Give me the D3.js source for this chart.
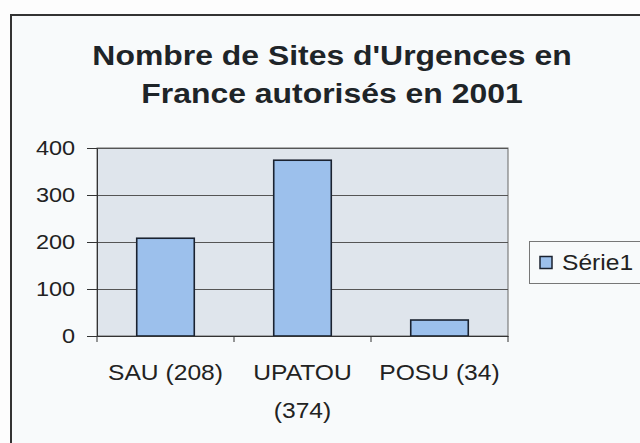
<!DOCTYPE html>
<html><head><meta charset="utf-8">
<script src="https://cdn.jsdelivr.net/npm/d3@7"></script>
<style>html,body{margin:0;padding:0;background:#fdfdfd;}svg{display:block;}</style>
</head><body>
<script>
const categories = ["SAU (208)", "UPATOU (374)", "POSU (34)"];
const labelLines = [["SAU (208)"], ["UPATOU", "(374)"], ["POSU (34)"]];
const values = [208, 374, 34];
const yTicks = [0, 100, 200, 300, 400];
const titleLines = ["Nombre de Sites d'Urgences en", "France autorisés en 2001"];
const seriesName = "Série1";

const W = 640, H = 443;
const SX = 1.12; // horizontal stretch of the scanned text
const svg = d3.select("body").append("svg").attr("width", W).attr("height", H);
const font = "'Liberation Sans', Arial, sans-serif";

// outer frame
svg.append("rect").attr("x", 11).attr("y", 15).attr("width", 700).attr("height", 700)
  .attr("fill", "#f8fafb").attr("stroke", "#333").attr("stroke-width", 2);

const plot = {left: 97, right: 508, top: 148, bottom: 336};
const x = d3.scaleBand().domain(categories).range([plot.left, plot.right]).paddingInner(0.58).paddingOuter(0.29);
const y = d3.scaleLinear().domain([0, 400]).range([plot.bottom, plot.top]);

// plot area
svg.append("rect").attr("x", plot.left).attr("y", plot.top)
  .attr("width", plot.right - plot.left).attr("height", plot.bottom - plot.top)
  .attr("fill", "#dfe5ec").attr("stroke", "#666").attr("stroke-width", 1);

// gridlines
svg.append("g").selectAll("line").data(yTicks.filter(d => d > 0)).join("line")
  .attr("x1", plot.left).attr("x2", plot.right)
  .attr("y1", d => Math.round(y(d)) + 0.5).attr("y2", d => Math.round(y(d)) + 0.5)
  .attr("stroke", "#555").attr("stroke-width", 1);

// bars
svg.append("g").selectAll("rect").data(values).join("rect")
  .attr("x", (d, i) => x(categories[i]))
  .attr("y", d => y(d))
  .attr("width", x.bandwidth())
  .attr("height", d => y(0) - y(d))
  .attr("fill", "#9cc0ec").attr("stroke", "#1a2230").attr("stroke-width", 1.6);

// y axis
const yAxis = d3.axisLeft(y).tickValues(yTicks).tickSize(10).tickPadding(9.5);
const gy = svg.append("g").attr("transform", `translate(${plot.left},0)`).call(yAxis);
gy.select(".domain").attr("stroke", "#333");
gy.selectAll(".tick line").attr("stroke", "#333");
gy.selectAll("text").attr("font-family", font).attr("font-size", 21).attr("fill", "#222")
  .attr("transform", `scale(${SX},1)`);

// x axis
const xAxis = d3.axisBottom(x).tickSize(0).tickFormat("");
const gx = svg.append("g").attr("transform", `translate(0,${plot.bottom})`).call(xAxis);
gx.select(".domain").attr("stroke", "#333");
const bounds = d3.range(categories.length + 1).map(i => plot.left + i * (plot.right - plot.left) / categories.length);
gx.selectAll(".bnd").data(bounds).join("line").attr("class", "bnd")
  .attr("x1", d => d).attr("x2", d => d).attr("y1", 0).attr("y2", 6)
  .attr("stroke", "#333");

// x labels
const lbl = svg.append("g");
labelLines.forEach((lines, i) => {
  const cx = x(categories[i]) + x.bandwidth() / 2;
  lines.forEach((l, j) => {
    lbl.append("text").attr("transform", `translate(${cx},${380 + j * 38}) scale(${SX},1)`)
      .attr("text-anchor", "middle")
      .attr("font-family", font).attr("font-size", 22).attr("fill", "#222").text(l);
  });
});

// title
titleLines.forEach((l, j) => {
  svg.append("text").attr("transform", `translate(332,${65 + j * 38}) scale(${SX},1)`)
    .attr("text-anchor", "middle")
    .attr("font-family", font).attr("font-size", 28.5).attr("font-weight", "bold").attr("fill", "#1e2428").text(l);
});

// legend
const lg = svg.append("g");
lg.append("rect").attr("x", 529.5).attr("y", 241.5).attr("width", 130).attr("height", 42)
  .attr("fill", "#f8fafb").attr("stroke", "#777").attr("stroke-width", 1);
lg.append("rect").attr("x", 540).attr("y", 256.5).attr("width", 12).attr("height", 12)
  .attr("fill", "#9cc0ec").attr("stroke", "#1a2230").attr("stroke-width", 1.5);
lg.append("text").attr("transform", `translate(562,270) scale(${SX},1)`)
  .attr("font-family", font).attr("font-size", 22)
  .attr("fill", "#222").text(seriesName);
</script>
</body></html>
